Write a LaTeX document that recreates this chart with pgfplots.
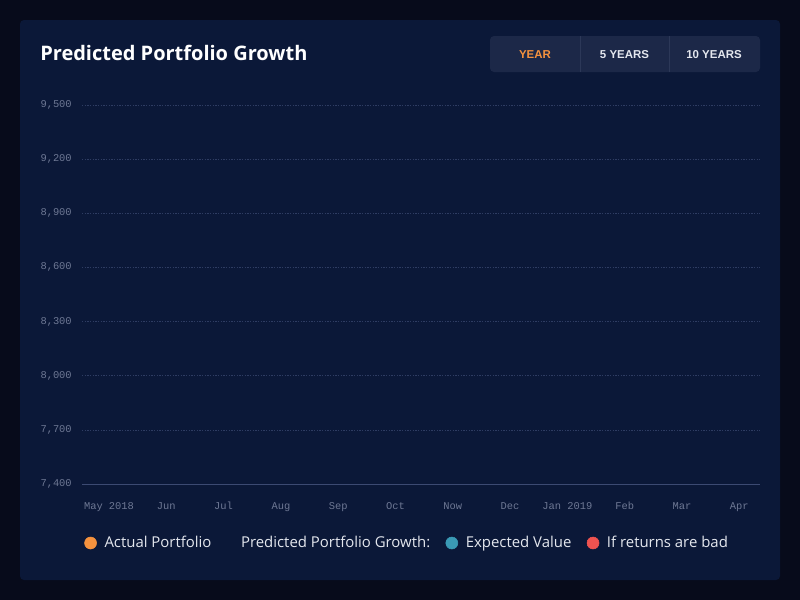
\documentclass[border=0pt]{standalone}
\usepackage{fontspec}
\setmainfont{Open Sans}
\setmonofont{Liberation Mono}
\usepackage{pgfplots}
\pgfplotsset{compat=1.18}

\definecolor{pagebg}{HTML}{070B1B}
\definecolor{cardbg}{HTML}{0B1838}
\definecolor{btnbg}{HTML}{1C2848}
\definecolor{btnline}{HTML}{2C3858}
\definecolor{gridc}{HTML}{2E3C62}
\definecolor{axisc}{HTML}{3C4A72}
\definecolor{tickc}{HTML}{6E7894}
\definecolor{legtext}{HTML}{E4E7EE}
\definecolor{actualc}{HTML}{F5923E}
\definecolor{expectc}{HTML}{3A9AB5}
\definecolor{badc}{HTML}{EF5350}

\begin{document}
\begin{tikzpicture}
% card, title and period buttons (pixel units, y down)
\begin{scope}[x=0.75pt,y=-0.75pt]
\fill[pagebg] (0,0) rectangle (800,600);
\fill[cardbg,rounded corners=3pt] (20,20) rectangle (780,580);
\fill[btnbg,rounded corners=3pt] (490,36) rectangle (760,72);
\draw[btnline,line width=0.6pt] (580,36) -- (580,72) (669,36) -- (669,72);
\node[anchor=base west,inner sep=0pt,text=white,font=\bfseries\fontsize{15}{18}\selectfont] at (40,60) {Predicted Portfolio Growth};
\begin{scope}[every node/.style={inner sep=0pt,font=\fontsize{8.6}{10}\selectfont\fontspec{Liberation Sans}\bfseries}]
\node[text=actualc] at (535,55) {YEAR};
\node[text=legtext] at (624.5,55) {5 YEARS};
\node[text=legtext] at (714,55) {10 YEARS};
\end{scope}
\end{scope}

\begin{axis}[scale only axis,width=508.5pt,height=284.25pt,
  at={(61.5pt,-363pt)},anchor=south west,
  xmin=-0.471,xmax=11.361,ymin=7400,ymax=9500,
  xtick={0,...,11},
  xticklabels={May 2018,Jun,Jul,Aug,Sep,Oct,Now,Dec,Jan 2019,Feb,Mar,Apr},
  ytick={7400,7700,8000,8300,8600,8900,9200,9500},
  yticklabels={{7,400},{7,700},{8,000},{8,300},{8,600},{8,900},{9,200},{9,500}},
  axis x line=bottom,axis y line=left,
  axis line style={-},
  x axis line style={draw=axisc,line width=0.6pt},
  y axis line style={draw=none},
  major tick length=0pt,
  ymajorgrids,
  grid style={gridc,dash pattern=on 1pt off 1pt,line width=0.4pt},
  tick label style={font=\ttfamily\fontsize{7.8}{9}\selectfont,text=tickc,inner sep=0pt},
  xticklabel style={anchor=base,yshift=-18.75pt},
  yticklabel style={anchor=east,xshift=-7.5pt},
  legend image code/.code={\fill[#1] (4.5pt,0pt) circle (4.5pt); \path (12.75pt,0pt);},
  legend style={at={(0.003,-0.1557)},anchor=west,draw=none,fill=none,
    inner sep=0pt,legend columns=-1,
    font=\fontsize{11.2}{13.4}\selectfont,nodes={text=legtext},
    /tikz/every even column/.append style={column sep=9.5pt}},
]
\addlegendimage{color=actualc}
\addlegendentry{Actual Portfolio}
\addlegendimage{legend image code/.code={\path (0pt,0pt) (8.25pt,0pt);}}
\addlegendentry{Predicted Portfolio Growth:}
\addlegendimage{color=expectc}
\addlegendentry{Expected Value}
\addlegendimage{color=badc}
\addlegendentry{If returns are bad}
\end{axis}
\end{tikzpicture}
\end{document}
